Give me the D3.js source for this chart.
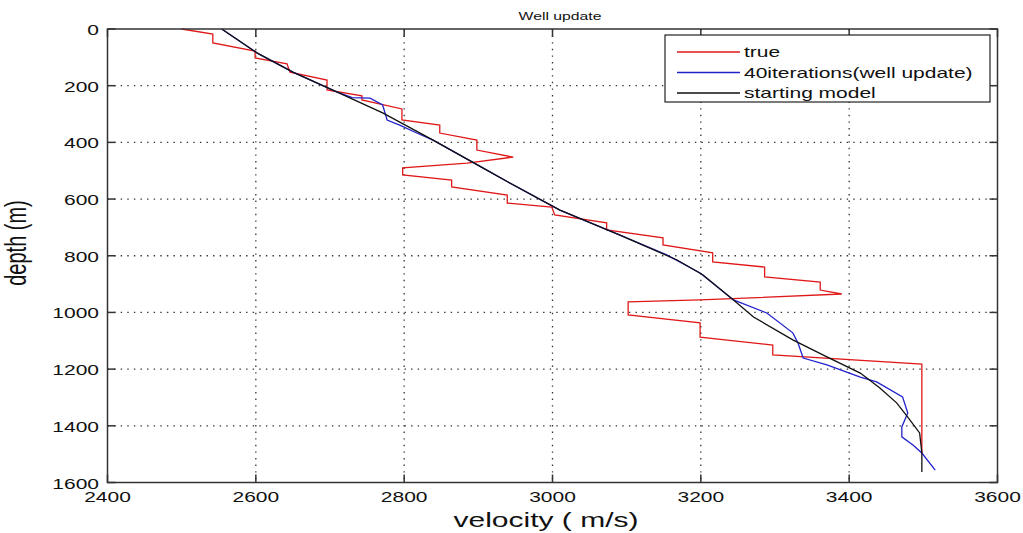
<!DOCTYPE html>
<html>
<head>
<meta charset="utf-8">
<script src="https://cdn.jsdelivr.net/npm/d3@7"></script>
<style>
  body { margin: 0; background: #fff; }
  text { font-family: "Liberation Sans", Arial, Helvetica, sans-serif; fill: #111; }
</style>
</head>
<body>
<svg id="chart" width="1023" height="533"></svg>
<script>
// true model (red)
const trueVel = [2500,2542,2542,2599,2599,2642,2646,2696,2696,2743,2743,2797,2797,2848,2848,2898,2898,2947,2885,2798,2798,2864,2864,2939,2939,2999,3003,3073,3073,3149,3149,3216,3216,3286,3286,3361,3361,3390,3199,3102,3102,3199,3199,3297,3297,3498,3498]
const trueDepth = [0,18,49,78,102,123,152,180,215,236,250,282,321,339,367,392,427,452,473,490,515,533,557,586,614,628,656,684,709,737,762,790,822,840,875,893,921,935,956,963,1009,1037,1087,1115,1150,1182,1500]

// 40 iterations (blue)
const iterVel = [2554,2602,2650,2709,2730,2754,2771,2777,2794,2817,2839,2906,2940,3010,3091,3154,3199,3244,3289,3324,3331,3338,3370,3415,3437,3472,3479,3471,3471,3486,3498,3516]
const iterDepth = [0,85,152,222,242,244,268,321,339,367,392,490,540,639,727,797,861,956,1002,1072,1108,1161,1185,1228,1245,1298,1355,1404,1439,1468,1496,1556]

// starting model (black)
const startVel = [2554,2602,2650,2709,2771,2839,2906,2940,3010,3091,3168,3203,3244,3271,3324,3370,3415,3441,3464,3479,3495,3498,3498]
const startDepth = [0,85,152,222,296,392,490,540,639,727,815,868,956,1016,1097,1157,1214,1266,1319,1369,1425,1496,1563]

const xTicks = [2400,2600,2800,3000,3200,3400,3600]
const yTicks = [0,200,400,600,800,1000,1200,1400,1600]
const legendNames = ['true', '40iterations(well update)', 'starting model']
const colors = ['#e01818', '#2222cc', '#111']

const sx = 1.5 // the picture is stretched sideways, so is its text
const svg = d3.select('#chart')
const x = d3.scaleLinear([2400, 3600], [107.5, 997.5])
const y = d3.scaleLinear([0, 1600], [29, 482.5])

function label(g, tx, ty, str, size, anchor, rot) {
  return g.append('text')
    .attr('transform', `translate(${tx},${ty}) scale(${sx},1)` + (rot ? ` rotate(${rot})` : ''))
    .attr('font-size', size)
    .attr('text-anchor', anchor)
    .text(str)
}

// grid
const grid = svg.append('g').attr('stroke', '#333').attr('stroke-width', 1.3).attr('stroke-dasharray', '1.4,5.2')
xTicks.slice(1, -1).forEach(t => {
  grid.append('line').attr('x1', x(t)).attr('x2', x(t)).attr('y1', y(0)).attr('y2', y(1600))
})
yTicks.slice(1, -1).forEach(t => {
  grid.append('line').attr('x1', x(2400)).attr('x2', x(3600)).attr('y1', y(t)).attr('y2', y(t))
})

// curves
const line = d3.line().x(d => x(d[0])).y(d => y(d[1]))
const series = [
  d3.zip(trueVel, trueDepth),
  d3.zip(iterVel, iterDepth),
  d3.zip(startVel, startDepth)
]
series.forEach((s, i) => {
  svg.append('path').datum(s)
    .attr('d', line)
    .attr('fill', 'none')
    .attr('stroke', colors[i])
    .attr('stroke-width', 1.3)
})

// box and ticks
svg.append('rect')
  .attr('x', x(2400)).attr('y', y(0))
  .attr('width', x(3600) - x(2400)).attr('height', y(1600) - y(0))
  .attr('fill', 'none').attr('stroke', '#333').attr('stroke-width', 1.5)

const tk = svg.append('g').attr('stroke', '#333').attr('stroke-width', 1.5)
xTicks.forEach(t => {
  tk.append('line').attr('x1', x(t)).attr('x2', x(t)).attr('y1', y(1600)).attr('y2', y(1600) - 8)
  tk.append('line').attr('x1', x(t)).attr('x2', x(t)).attr('y1', y(0)).attr('y2', y(0) + 8)
  label(svg, x(t), 502, t, 14, 'middle')
})
yTicks.forEach(t => {
  tk.append('line').attr('x1', x(2400)).attr('x2', x(2400) + 8).attr('y1', y(t)).attr('y2', y(t))
  tk.append('line').attr('x1', x(3600)).attr('x2', x(3600) - 8).attr('y1', y(t)).attr('y2', y(t))
  label(svg, 99, y(t) + 6, t, 14, 'end')
})

// titles
label(svg, 560, 20, 'Well update', 10.5, 'middle')
label(svg, 546, 527, 'velocity ( m/s)', 20, 'middle')
label(svg, 26, 243, 'depth (m)', 20, 'middle', -90)

// legend
const lg = svg.append('g')
lg.append('rect')
  .attr('x', 665).attr('y', 35).attr('width', 325).attr('height', 67)
  .attr('fill', '#fff').attr('stroke', '#222').attr('stroke-width', 1.2)
legendNames.forEach((n, i) => {
  const ly = 52 + i * 20.5
  lg.append('line')
    .attr('x1', 677).attr('x2', 740).attr('y1', ly).attr('y2', ly)
    .attr('stroke', colors[i]).attr('stroke-width', 1.3)
  label(lg, 744, ly + 5, n, 14, 'start')
})
</script>
</body>
</html>
